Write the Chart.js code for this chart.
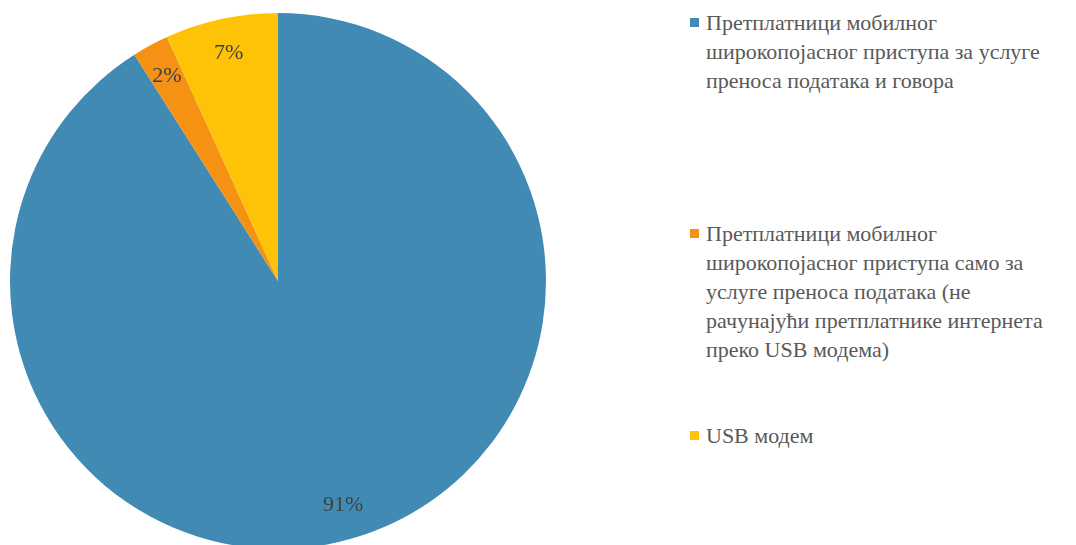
<!DOCTYPE html>
<html>
<head>
<meta charset="utf-8">
<script src="https://cdn.jsdelivr.net/npm/chart.js@4/dist/chart.umd.min.js"></script>
<style>
    html, body { margin: 0; padding: 0; background: #ffffff; overflow: hidden; }
    body { width: 1076px; height: 545px; position: relative; font-family: "Times New Roman", Tinos, "Liberation Serif", "DejaVu Serif", "Noto Serif", serif; }
    #pieBox { position: absolute; left: 0; top: 0; width: 556px; height: 560px; }
    .legend { position: absolute; left: 690px; top: 0; width: 386px; color: #595959; font-size: 22px; line-height: 29px; }
    .legend-item { position: absolute; left: 0; width: 386px; padding-left: 16px; box-sizing: border-box; white-space: nowrap; }
    .legend-color { position: absolute; left: 0; top: 10px; width: 9px; height: 9px; }
</style>
</head>
<body>
<div id="pieBox"><canvas id="pieChart"></canvas></div>
<div class="legend" id="legend"></div>
<script>
// 数据（图例按原图换行）
const categories = [
    ['Претплатници мобилног', 'широкопојасног приступа за услуге', 'преноса података и говора'],
    ['Претплатници мобилног', 'широкопојасног приступа само за', 'услуге преноса података (не', 'рачунајући претплатнике интернета', 'преко USB модема)'],
    ['USB модем']
];
const shares = [91.0, 2.2, 6.8];
const percentLabels = ['91%', '2%', '7%'];
const colors = ['#418ab3', '#f59213', '#fec306'];
// 图例每项的顶部位置
const legendTops = [8, 219, 421];

const fontStack = '"Times New Roman", Tinos, "Liberation Serif", "DejaVu Serif", "Noto Serif", serif';

// 扇区内百分比标签
const sliceLabels = {
    id: 'sliceLabels',
    afterDatasetsDraw(chart) {
        const ctx = chart.ctx;
        const meta = chart.getDatasetMeta(0);
        ctx.save();
        ctx.font = '22px ' + fontStack;
        ctx.fillStyle = '#404040';
        ctx.textAlign = 'center';
        ctx.textBaseline = 'middle';
        meta.data.forEach((arc, i) => {
            const p = arc.getProps(['x', 'y', 'startAngle', 'endAngle', 'outerRadius'], true);
            const mid = (p.startAngle + p.endAngle) / 2;
            const r = p.outerRadius * 0.87;
            ctx.fillText(percentLabels[i], p.x + Math.cos(mid) * r, p.y + Math.sin(mid) * r);
        });
        ctx.restore();
    }
};

new Chart(document.getElementById('pieChart'), {
    type: 'pie',
    data: {
        labels: categories,
        datasets: [{
            data: shares,
            backgroundColor: colors,
            borderWidth: 0
        }]
    },
    options: {
        responsive: true,
        maintainAspectRatio: false,
        animation: false,
        layout: { padding: { left: 10, right: 10, top: 13, bottom: 11 } },
        plugins: {
            legend: { display: false },
            tooltip: { enabled: false }
        }
    },
    plugins: [sliceLabels]
});

// 自定义图例
document.getElementById('legend').innerHTML = categories.map((lines, i) => `
    <div class="legend-item" style="top:${legendTops[i]}px">
        <span class="legend-color" style="background:${colors[i]}"></span>${lines.join('<br>')}
    </div>`).join('');
</script>
</body>
</html>
